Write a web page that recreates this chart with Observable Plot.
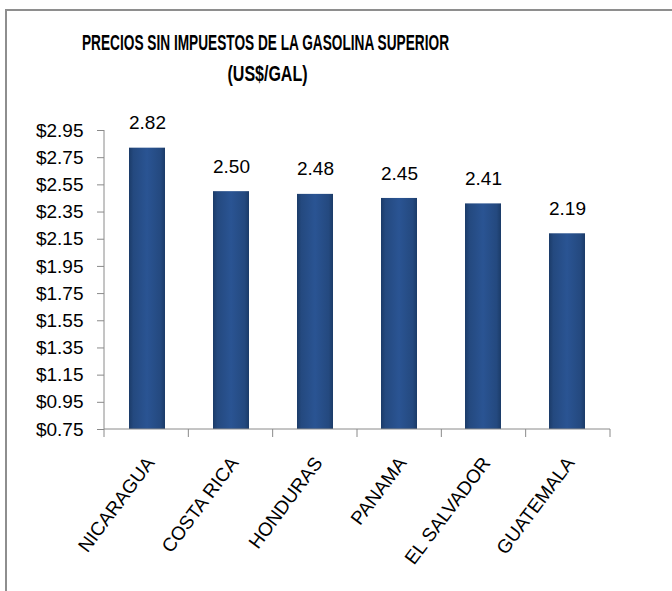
<!DOCTYPE html>
<html>
<head>
<meta charset="utf-8">
<script src="https://cdn.jsdelivr.net/npm/d3@7"></script>
<script src="https://cdn.jsdelivr.net/npm/@observablehq/plot@0.6"></script>
<style>
  html, body { margin: 0; padding: 0; background: #fff; }
  #wrap { position: relative; width: 672px; height: 591px; overflow: hidden; }
  #frame { position: absolute; left: 5px; top: 9px; width: 700px; height: 620px; border: 2px solid #8e8e8e; box-sizing: border-box; }
  #chart { position: absolute; left: 0; top: 0; }
  #title { position: absolute; left: 0; top: 0; }
</style>
</head>
<body>
<div id="wrap">
  <div id="frame"></div>
  <div id="chart"></div>
  <svg id="title" width="672" height="100"></svg>
</div>
<script>
const titleLines = ["PRECIOS SIN IMPUESTOS DE LA GASOLINA SUPERIOR", "(US$/GAL)"];
const categories = ["NICARAGUA", "COSTA RICA", "HONDURAS", "PANAMA", "EL SALVADOR", "GUATEMALA"];
const values = [2.82, 2.50, 2.48, 2.45, 2.41, 2.19];
const yTicks = [0.75, 0.95, 1.15, 1.35, 1.55, 1.75, 1.95, 2.15, 2.35, 2.55, 2.75, 2.95];

// title (condensed look via textLength)
const tsvg = d3.select("#title");
const titleStyle = [
  { x: 265.5, y: 50, len: 367 },
  { x: 267.5, y: 81, len: 80 }
];
titleLines.forEach((t, i) => {
  tsvg.append("text")
    .attr("x", titleStyle[i].x).attr("y", titleStyle[i].y)
    .attr("text-anchor", "middle")
    .attr("font-family", "'Liberation Sans', Arial, sans-serif")
    .attr("font-weight", "bold").attr("font-size", 22)
    .attr("textLength", titleStyle[i].len).attr("lengthAdjust", "spacingAndGlyphs")
    .text(t);
});

const data = categories.map((c, i) => ({ pais: c, valor: values[i] }));
const numFont = "'Liberation Sans', Arial, sans-serif";

const plot = Plot.plot({
  width: 672,
  height: 591,
  marginLeft: 104,
  marginRight: 62,
  marginTop: 130,
  marginBottom: 162,
  style: { fontFamily: numFont, fontSize: "19px", color: "#000", background: "transparent" },
  x: { domain: categories, paddingInner: 0.57, paddingOuter: 0.285, label: null },
  y: { domain: [yTicks[0], yTicks[yTicks.length - 1]], label: null },
  marks: [
    Plot.barY(data, { x: "pais", y1: yTicks[0], y2: "valor", fill: "url(#barGrad)", style: "filter:url(#barShadow)" }),
    Plot.tickY(data, { x: "pais", y: "valor", stroke: "url(#capGrad)", strokeWidth: 7, dy: 4, insetLeft: 3, insetRight: 3 }),
    Plot.text(data, { x: "pais", y: "valor", text: d => d.valor.toFixed(2), dy: -25, fontSize: 19, fill: "#000" }),
    Plot.axisY({ ticks: yTicks, tickFormat: d => "$" + d.toFixed(2), tickSize: 7, tickPadding: 14, stroke: "#8a8a8a", fontSize: 19, label: null }),
    Plot.axisX({ tickSize: 0, tickPadding: 30, tickRotate: -53, dx: 3, fontSize: 19, label: null })
  ]
});

document.getElementById("chart").appendChild(plot);

// gradients / filters
const svg = d3.select(plot);
const defs = svg.insert("defs", ":first-child");
const g = defs.append("linearGradient").attr("id", "barGrad").attr("x1", 0).attr("x2", 1).attr("y1", 0).attr("y2", 0);
[[0, "#1b3b68"], [0.12, "#24497f"], [0.5, "#2a5493"], [0.88, "#24497f"], [1, "#1b3b68"]]
  .forEach(([o, c]) => g.append("stop").attr("offset", o).attr("stop-color", c));
const cg = defs.append("linearGradient").attr("id", "capGrad").attr("x1", 0).attr("x2", 0).attr("y1", 0).attr("y2", 1);
[[0, "#5a88c6"], [1, "#33609f"]].forEach(([o, c]) => cg.append("stop").attr("offset", o).attr("stop-color", c));
const f = defs.append("filter").attr("id", "barShadow").attr("x", "-20%").attr("y", "-5%").attr("width", "150%").attr("height", "115%");
f.append("feDropShadow").attr("dx", 2).attr("dy", 1).attr("stdDeviation", 1.5).attr("flood-color", "#000").attr("flood-opacity", 0.35);

// axis lines and category boundary ticks from the library's scales
const xs = plot.scale("x"), ys = plot.scale("y");
const [x0, x1] = xs.range;
const yBase = ys.range[0], yTop = ys.range[1];
const axisG = svg.append("g").attr("stroke", "#8a8a8a").attr("stroke-width", 1);
axisG.append("line").attr("x1", x0).attr("x2", x0).attr("y1", yTop).attr("y2", yBase);
axisG.append("line").attr("x1", x0).attr("x2", x1).attr("y1", yBase).attr("y2", yBase);
for (let i = 0; i <= categories.length; i++) {
  const xx = x0 + (x1 - x0) * i / categories.length;
  axisG.append("line").attr("x1", xx).attr("x2", xx).attr("y1", yBase).attr("y2", yBase + 8);
}
</script>
</body>
</html>
